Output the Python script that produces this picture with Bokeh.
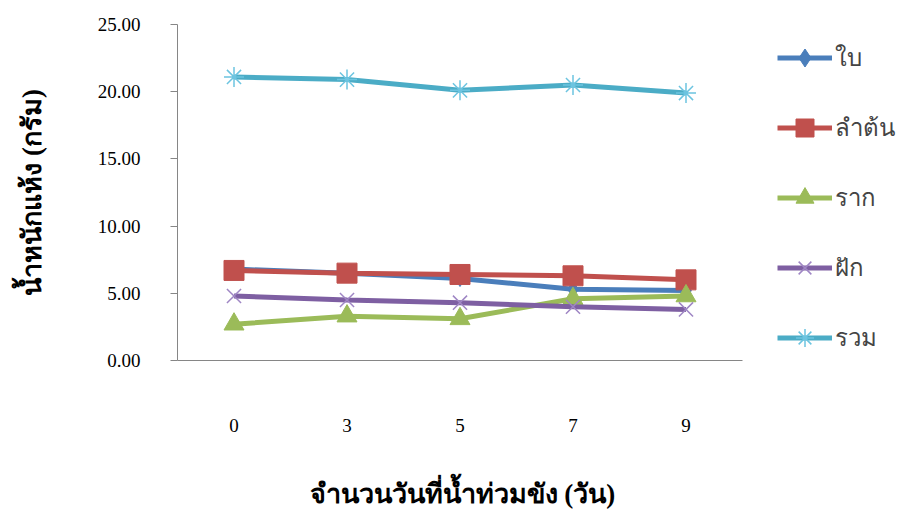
from bokeh.plotting import figure
from bokeh.models import (Range1d, FixedTicker, Legend, LegendItem, NumeralTickFormatter, Title)
from bokeh.embed import file_html
from bokeh.resources import INLINE

days = ["0", "3", "5", "7", "9"]
leaf = [6.8, 6.5, 6.1, 5.3, 5.2]
stem = [6.7, 6.5, 6.4, 6.3, 6.0]
root = [2.7, 3.3, 3.1, 4.6, 4.8]
pod = [4.8, 4.5, 4.3, 4.0, 3.8]
total = [21.1, 20.9, 20.1, 20.5, 19.9]

names = ["ใบ", "ลำต้น", "ราก", "ฝัก", "รวม"]
series = [leaf, stem, root, pod, total]
colors = ["#4A7EBB", "#C0504D", "#9BBB59", "#7E5FA2", "#4BACC6"]
mcolors = ["#4A7EBB", "#C0504D", "#9BBB59", "#9F86C4", "#6CC4E0"]
markers = ["diamond", "square", "triangle", "x", "asterisk"]
msizes = [16, 20, 20, 20, 20]

x_title = "จำนวนวันที่น้ำท่วมขัง (วัน)"
y_title = "น้ำหนักแห้ง (กรัม)"

FONT = "Liberation Serif"

# category positions on a numeric axis (one slot per day), so the legend fits in the frame
xpos = list(range(len(days)))
n = len(days)
slot_px = 113.0
frame_w = 900 - 177
x_end = -0.5 + frame_w / slot_px

p = figure(width=900, height=513, x_range=Range1d(-0.5, x_end), y_range=Range1d(0, 25),
           output_backend="svg", toolbar_location=None,
           min_border_left=177, min_border_right=0, min_border_top=24, min_border_bottom=153)
p.outline_line_color = None
p.grid.visible = False
p.background_fill_color = "white"

items = []
for name, vals, c, mc, m, s in zip(names, series, colors, mcolors, markers, msizes):
    r1 = p.line(xpos, vals, line_color=c, line_width=5)
    if m in ("x", "asterisk"):
        r2 = p.scatter(xpos, vals, marker=m, size=s, line_color=mc, line_width=1.5)
    else:
        r2 = p.scatter(xpos, vals, marker=m, size=s, fill_color=c, line_color=c)
    items.append(LegendItem(label=name, renderers=[r1, r2]))

legend = Legend(items=items, location=(600, 0), orientation="vertical",
                glyph_width=55, glyph_height=45, label_height=45, spacing=25,
                label_text_font=FONT, label_text_font_size="24px",
                label_standoff=3, border_line_color=None, background_fill_alpha=0,
                padding=0, margin=0)
p.add_layout(legend)

p.yaxis.ticker = FixedTicker(ticks=[0, 5, 10, 15, 20, 25])
p.yaxis.formatter = NumeralTickFormatter(format="0.00")
p.yaxis.major_label_text_font = FONT
p.yaxis.major_label_text_font_size = "19px"
p.yaxis.major_label_text_color = "black"
p.yaxis.axis_line_color = "#868686"
p.yaxis.major_tick_line_color = "#868686"
p.yaxis.major_tick_out = 7
p.yaxis.major_tick_in = 0
p.yaxis.minor_tick_line_color = None
p.yaxis.major_label_standoff = 30
p.yaxis.axis_label = y_title
p.yaxis.axis_label_text_font = FONT
p.yaxis.axis_label_text_font_size = "27px"
p.yaxis.axis_label_text_font_style = "bold"
p.yaxis.axis_label_text_color = "black"
p.yaxis.axis_label_standoff = 48

p.xaxis.ticker = FixedTicker(ticks=xpos)
p.xaxis.major_label_overrides = {i: d for i, d in zip(xpos, days)}
p.xaxis.bounds = (-0.5, n - 0.5)
p.xaxis.axis_line_color = "#868686"
p.xaxis.major_tick_line_color = None
p.xaxis.minor_tick_line_color = None
p.xaxis.major_label_text_font = FONT
p.xaxis.major_label_text_font_size = "19px"
p.xaxis.major_label_text_color = "black"
p.xaxis.major_label_standoff = 52

# small blank spacer panel that pushes the x title down to the bottom edge
spacer = Title(text=" ", text_font_size="2px", standoff=38, text_color="white")
p.add_layout(spacer, "below")

xt = Title(text=x_title, align="left", offset=132, standoff=0,
           text_font=FONT, text_font_size="27px", text_font_style="bold", text_color="black")
p.add_layout(xt, "below")

open("out.html", "w").write(file_html(p, INLINE))
